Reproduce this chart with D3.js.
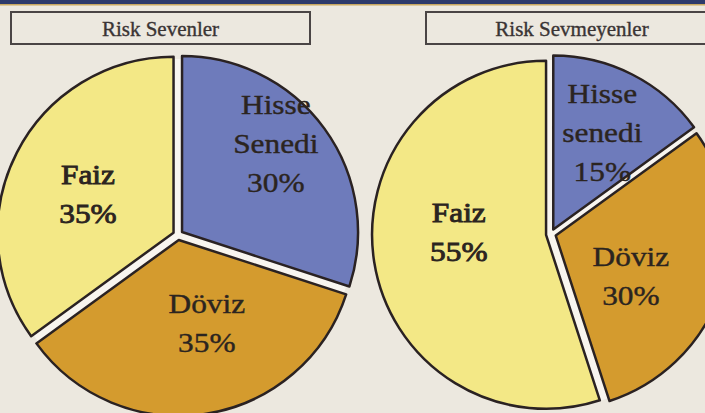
<!DOCTYPE html>
<html>
<head>
<meta charset="utf-8">
<script src="https://cdn.jsdelivr.net/npm/d3@7"></script>
<style>
  html, body { margin: 0; padding: 0; background: #ece8df; }
  svg { display: block; }
</style>
</head>
<body>
<script>
// data
var categories = ["Hisse Senedi", "Döviz", "Faiz"];
var riskSevenler = [30, 35, 35];
var riskSevmeyenler = [15, 30, 55];
var titles = ["Risk Sevenler", "Risk Sevmeyenler"];
var labelsLeft = [["Hisse", "Senedi"], ["Döviz"], ["Faiz"]];
var labelsRight = [["Hisse", "senedi"], ["Döviz"], ["Faiz"]];

var width = 705, height = 413;

var svg = d3.select("body")
    .append("svg")
    .attr("width", width)
    .attr("height", height);

svg.append("rect")
    .attr("width", width)
    .attr("height", height)
    .attr("fill", "#ece8df");

// top band
svg.append("rect").attr("x", 0).attr("y", 0).attr("width", width).attr("height", 4).attr("fill", "#2d3a6b");
svg.append("rect").attr("x", 0).attr("y", 4).attr("width", width).attr("height", 1.5).attr("fill", "#c9a860");

var color = d3.scaleOrdinal()
    .domain(categories)
    .range(["#6e7bbb", "#d49b2e", "#f3e886"]);

var pie = d3.pie().sort(null).value(function (d) { return d.value; });

// lab: per slice [radius factor, angle shift in degrees] for label placement
function drawPie(cx, cy, r, values, labels, title, box, lab) {
    var g = svg.append("g").attr("transform", "translate(" + cx + "," + cy + ")");

    var data = categories.map(function (c, i) {
        return { name: c, value: values[i], label: labels[i] };
    });
    var arcs = pie(data);

    var arc = d3.arc().innerRadius(0).outerRadius(r);
    var offset = 5;

    // white base so the gaps between slices look white
    g.append("circle").attr("r", r).attr("fill", "#f8f5ef");

    g.selectAll("path.slice")
        .data(arcs)
        .enter().append("path")
        .attr("class", "slice")
        .attr("transform", function (d) {
            var a = (d.startAngle + d.endAngle) / 2;
            return "translate(" + (Math.sin(a) * offset) + "," + (-Math.cos(a) * offset) + ")";
        })
        .attr("d", arc)
        .attr("fill", function (d) { return color(d.data.name); })
        .attr("stroke", "#2a2222")
        .attr("stroke-width", 2.5)
        .attr("stroke-linejoin", "round");

    arcs.forEach(function (d, i) {
        var a = (d.startAngle + d.endAngle) / 2 + lab[i][1] * Math.PI / 180;
        var lr = r * lab[i][0];
        var x = Math.sin(a) * lr, y = -Math.cos(a) * lr;
        var lines = d.data.label.concat([d.data.value + "%"]);
        var lh = 39;
        var y0 = y - (lines.length - 1) * lh / 2 + 9;
        lines.forEach(function (t, j) {
            g.append("text")
                .attr("transform", "translate(" + x + "," + (y0 + j * lh) + ") scale(1.12,1)")
                .attr("text-anchor", "middle")
                .attr("font-family", "'Liberation Serif', 'Times New Roman', serif")
                .attr("font-size", 28)
                .attr("fill", "#2b2420")
                .attr("stroke", "#2b2420")
                .attr("stroke-width", d.data.name === "Faiz" ? 0.9 : 0.4)
                .text(t);
        });
    });

    // title box
    svg.append("rect")
        .attr("x", box[0]).attr("y", 12)
        .attr("width", box[1] - box[0]).attr("height", 32)
        .attr("fill", "none")
        .attr("stroke", "#4a4545")
        .attr("stroke-width", 2);
    svg.append("text")
        .attr("x", (box[0] + box[1]) / 2)
        .attr("y", 36)
        .attr("text-anchor", "middle")
        .attr("font-family", "'Liberation Serif', 'Times New Roman', serif")
        .attr("font-size", 21)
        .attr("fill", "#3a3434")
        .attr("stroke", "#3a3434")
        .attr("stroke-width", 0.35)
        .text(title);
}

drawPie(178, 235, 176, riskSevenler, labelsLeft, titles[0], [11, 310],
    [[0.76, -7], [0.53, -9], [0.56, -3]]);
drawPie(551, 234, 174, riskSevmeyenler, labelsRight, titles[1], [426, 718],
    [[0.65, 0], [0.52, 10], [0.53, 10]]);
</script>
</body>
</html>
